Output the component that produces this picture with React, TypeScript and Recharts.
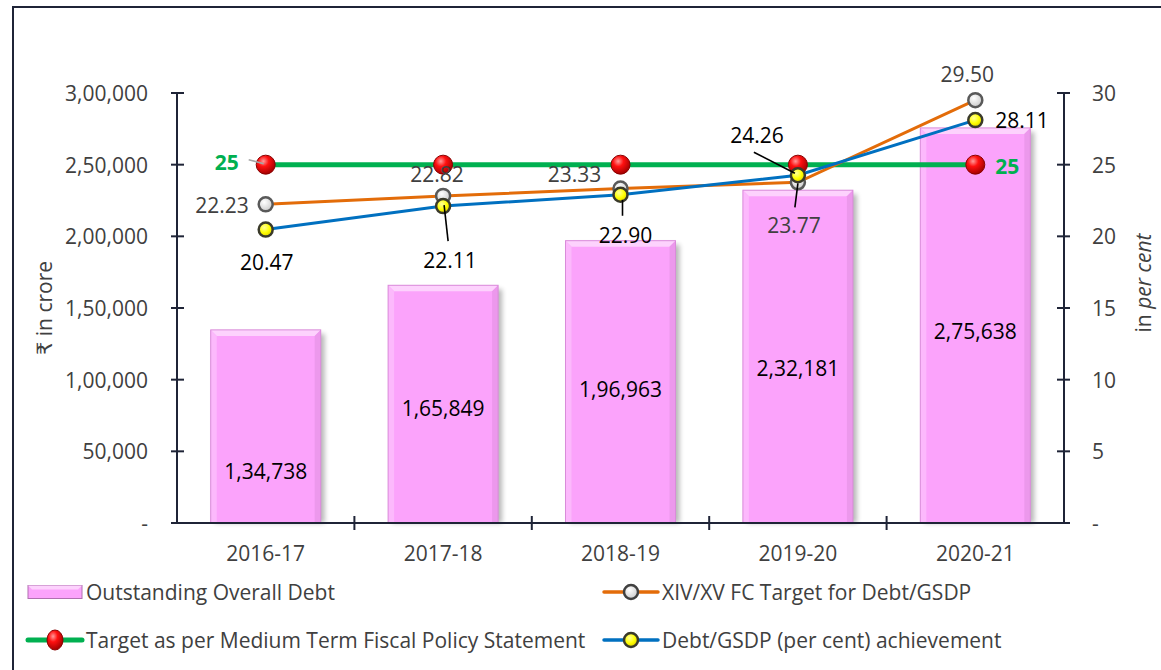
import React from 'react';
import { ComposedChart, Bar, Line, XAxis, YAxis, LabelList } from 'recharts';

// ---------- data ----------
const categories = ['2016-17', '2017-18', '2018-19', '2019-20', '2020-21'];
const outstandingDebt = [134738, 165849, 196963, 232181, 275638];
const mtfpsTarget = [25, 25, 25, 25, 25];
const fcTarget = [22.23, 22.82, 23.33, 23.77, 29.5];
const achievement = [20.47, 22.11, 22.9, 24.26, 28.11];
const leftTicks = [0, 50000, 100000, 150000, 200000, 250000, 300000];
const rightTicks = [0, 5, 10, 15, 20, 25, 30];

const data = categories.map((c, i) => ({
  category: c,
  debt: outstandingDebt[i],
  mtfps: mtfpsTarget[i],
  fc: fcTarget[i],
  ach: achievement[i],
}));

// ---------- styles / layout ----------
const AXIS = '#1f2437';
const GRAY = '#404040';
const FONT = "'Open Sans', 'DejaVu Sans', sans-serif";
const FS = 21;
const CHART_W = 1146;
const CHART_H = 561;
const LEFT_W = 163;
const RIGHT_W = 96;
const TOP = 85;
const XAXIS_H = 46;
const BAND = (CHART_W - LEFT_W - RIGHT_W) / categories.length;

function fmtIN(n: number): string {
  if (n === 0) return '-';
  const s = String(Math.round(n));
  if (s.length <= 3) return s;
  const last3 = s.slice(-3);
  let rest = s.slice(0, -3);
  const parts: string[] = [];
  while (rest.length > 2) {
    parts.unshift(rest.slice(-2));
    rest = rest.slice(0, -2);
  }
  if (rest) parts.unshift(rest);
  return parts.join(',') + ',' + last3;
}

// label placement (relative to the point the library gives)
const BAR_LABEL_DY = [45, 4, 7, 11, 6];
type Place = { dx: number; dy: number; anchor?: 'start' | 'middle' | 'end'; leader?: number[] } | null;
const MTFPS_PLACE: Place[] = [
  { dx: -27, dy: -3, anchor: 'end', leader: [-17, -5, -2, -1] },
  null,
  null,
  null,
  { dx: 20, dy: 1, anchor: 'start' },
];
const FC_PLACE: Place[] = [
  { dx: -17, dy: 1, anchor: 'end' },
  { dx: -6, dy: -22 },
  { dx: -46, dy: -15 },
  { dx: -4, dy: 43, leader: [0, 1, -3, 25] },
  { dx: -8, dy: -26 },
];
const ACH_PLACE: Place[] = [
  { dx: 1, dy: 32 },
  { dx: 7, dy: 54, leader: [1, -1, 5, 35] },
  { dx: 5, dy: 40, leader: [2, 5, 2, 21] },
  { dx: -41, dy: -40, leader: [-3, -2, -44, -23] },
  { dx: 20, dy: 0, anchor: 'start' },
];

// ---------- ticks ----------
const LeftTick = (props: any) => {
  const { x, y, payload } = props;
  const ax = x + 29;
  return (
    <g>
      <line x1={ax - 6} x2={ax + 7} y1={y} y2={y} stroke={AXIS} strokeWidth={2} />
      <text x={x} y={y} textAnchor="end" dominantBaseline="central" fontFamily={FONT} fontSize={FS} fill={GRAY}>
        {fmtIN(payload.value)}
      </text>
    </g>
  );
};

const RightTick = (props: any) => {
  const { x, y, payload } = props;
  const ax = x - 28;
  return (
    <g>
      <line x1={ax - 7} x2={ax + 6} y1={y} y2={y} stroke={AXIS} strokeWidth={2} />
      <text x={x} y={y} textAnchor="start" dominantBaseline="central" fontFamily={FONT} fontSize={FS} fill={GRAY}>
        {payload.value === 0 ? '-' : payload.value}
      </text>
    </g>
  );
};

const XTick = (props: any) => {
  const { x, y, payload, index } = props;
  const bx = x - BAND / 2;
  return (
    <g>
      {index > 0 && <line x1={bx} x2={bx} y1={y - 7} y2={y + 7} stroke={AXIS} strokeWidth={2} />}
      <text x={x} y={y + 30} textAnchor="middle" dominantBaseline="central" fontFamily={FONT} fontSize={FS} fill={GRAY}>
        {payload.value}
      </text>
    </g>
  );
};

// ---------- bar shape ----------
const BevelBar = (props: any) => {
  const { x, y, width, height } = props;
  if (!(height > 0)) return null;
  const b = 6;
  return (
    <g>
      <rect x={x + 4} y={y + 4} width={width} height={height - 4} fill="#000" opacity={0.28} filter="url(#barShadow)" />
      <rect x={x} y={y} width={width} height={height} fill="#FBA3FB" />
      <polygon points={`${x},${y} ${x + width},${y} ${x + width - b},${y + b} ${x + b},${y + b}`} fill="#FDD2FD" />
      <polygon points={`${x},${y} ${x + b},${y + b} ${x + b},${y + height} ${x},${y + height}`} fill="#FCB9FC" />
      <polygon
        points={`${x + width},${y} ${x + width},${y + height} ${x + width - b},${y + height} ${x + width - b},${y + b}`}
        fill="#EC98EC"
      />
      <rect x={x} y={y} width={width} height={height} fill="none" stroke="#D98CD9" strokeWidth={1} />
    </g>
  );
};

const BarLabel = (props: any) => {
  const vb = props.viewBox || {};
  const x = props.x ?? vb.x;
  const y = props.y ?? vb.y;
  const w = props.width ?? vb.width;
  const h = props.height ?? vb.height;
  const i = props.index ?? 0;
  return (
    <text
      x={x + w / 2}
      y={y + h / 2 + (BAR_LABEL_DY[i] || 0)}
      textAnchor="middle"
      dominantBaseline="central"
      fontFamily={FONT}
      fontSize={FS}
      fill="#000"
    >
      {fmtIN(props.value)}
    </text>
  );
};

const makePointLabel = (places: Place[], color: string, bold: boolean, fmt: (v: number) => string) => (props: any) => {
  const vb = props.viewBox || {};
  const px = props.x ?? vb.x;
  const py = props.y ?? vb.y;
  const i = props.index ?? 0;
  const p = places[i];
  if (!p || px == null || py == null) return null;
  return (
    <g>
      {p.leader && (
        <line
          x1={px + p.leader[0]}
          y1={py + p.leader[1]}
          x2={px + p.leader[2]}
          y2={py + p.leader[3]}
          stroke={bold ? '#a6a6a6' : '#000'}
          strokeWidth={1.6}
        />
      )}
      <text
        x={px + p.dx}
        y={py + p.dy}
        textAnchor={p.anchor || 'middle'}
        dominantBaseline="central"
        fontFamily={FONT}
        fontSize={FS}
        fontWeight={bold ? 700 : 400}
        fill={color}
      >
        {fmt(props.value)}
      </text>
    </g>
  );
};

const MtfpsLabel = makePointLabel(MTFPS_PLACE, '#00B050', true, (v) => String(v));
const FcLabel = makePointLabel(FC_PLACE, GRAY, false, (v) => Number(v).toFixed(2));
const AchLabel = makePointLabel(ACH_PLACE, '#000', false, (v) => Number(v).toFixed(2));

// ---------- dots ----------
const RedDot = ({ cx, cy, r = 9.5 }: any) => (
  <circle cx={cx} cy={cy} r={r} fill="url(#redBall)" stroke="#8a0000" strokeWidth={1} />
);
const WhiteDot = ({ cx, cy, r = 7 }: any) => (
  <circle cx={cx} cy={cy} r={r} fill="url(#whiteBall)" stroke="#595959" strokeWidth={2.5} />
);
const YellowDot = ({ cx, cy, r = 7 }: any) => (
  <circle cx={cx} cy={cy} r={r} fill="url(#yellowBall)" stroke="#3a3a2a" strokeWidth={2.5} />
);

// ---------- axis titles ----------
const LeftTitle = () => (
  <text
    x={29.5}
    y={300}
    transform="rotate(-90 29.5 300)"
    textAnchor="middle"
    dominantBaseline="central"
    fontFamily={FONT}
    fontSize={FS}
    fill={GRAY}
  >
    ₹ in crore
  </text>
);
const RightTitle = () => (
  <text
    x={1129}
    y={275}
    transform="rotate(-90 1129 275)"
    textAnchor="middle"
    dominantBaseline="central"
    fontFamily={FONT}
    fontSize={FS}
    fill={GRAY}
  >
    <tspan>{'in  '}</tspan>
    <tspan fontStyle="italic">per cent</tspan>
  </text>
);

// ---------- legend ----------
const legendItems = [
  { name: 'Outstanding Overall Debt', kind: 'bar', col: 0, row: 0 },
  { name: 'XIV/XV FC Target for Debt/GSDP', kind: 'fc', col: 1, row: 0 },
  { name: 'Target as per Medium Term Fiscal Policy Statement', kind: 'mtfps', col: 0, row: 1 },
  { name: 'Debt/GSDP (per cent) achievement', kind: 'ach', col: 1, row: 1 },
];

const Legend2 = () => {
  const colX = [14, 590];
  const rowY = [24, 72];
  return (
    <svg width={CHART_W} height={100} style={{ position: 'absolute', left: 0, top: 560 }}>
      <defs>
        <radialGradient id="lg_redBall" cx="38%" cy="32%" r="70%">
          <stop offset="0%" stopColor="#ff9a9a" />
          <stop offset="40%" stopColor="#ff1010" />
          <stop offset="100%" stopColor="#a00000" />
        </radialGradient>
        <radialGradient id="lg_whiteBall" cx="40%" cy="35%" r="70%">
          <stop offset="0%" stopColor="#ffffff" />
          <stop offset="100%" stopColor="#c8c8c8" />
        </radialGradient>
        <radialGradient id="lg_yellowBall" cx="40%" cy="35%" r="70%">
          <stop offset="0%" stopColor="#ffff9a" />
          <stop offset="55%" stopColor="#ffff00" />
          <stop offset="100%" stopColor="#d8c800" />
        </radialGradient>
      </defs>
      {legendItems.map((it) => {
        const x0 = colX[it.col];
        const cy = rowY[it.row];
        let icon: React.ReactNode = null;
        if (it.kind === 'bar') {
          icon = (
            <g>
              <rect x={x0} y={cy - 6.5} width={54} height={13} fill="#FBA3FB" stroke="#B070B0" strokeWidth={1} />
              <polygon
                points={`${x0},${cy - 6.5} ${x0 + 54},${cy - 6.5} ${x0 + 50},${cy - 2.5} ${x0 + 4},${cy - 2.5}`}
                fill="#FDD2FD"
              />
            </g>
          );
        } else {
          const color = it.kind === 'fc' ? '#E36C09' : it.kind === 'ach' ? '#0070C0' : '#00B050';
          const sw = it.kind === 'mtfps' ? 5 : 3.5;
          const mid = x0 + 27;
          icon = (
            <g>
              <line x1={x0} x2={x0 + 54} y1={cy} y2={cy} stroke={color} strokeWidth={sw} strokeLinecap="round" />
              {it.kind === 'mtfps' && (
                <ellipse cx={mid} cy={cy} rx={8} ry={10} fill="url(#lg_redBall)" stroke="#8a0000" strokeWidth={1} />
              )}
              {it.kind === 'fc' && (
                <circle cx={mid} cy={cy} r={7} fill="url(#lg_whiteBall)" stroke="#404040" strokeWidth={2.5} />
              )}
              {it.kind === 'ach' && (
                <circle cx={mid} cy={cy} r={7} fill="url(#lg_yellowBall)" stroke="#3a3a2a" strokeWidth={2.5} />
              )}
            </g>
          );
        }
        return (
          <g key={it.name}>
            {icon}
            <text x={x0 + 58} y={cy} dominantBaseline="central" fontFamily={FONT} fontSize={FS} fill={GRAY}>
              {it.name}
            </text>
          </g>
        );
      })}
    </svg>
  );
};

export default function App() {
  return (
    <div
      style={{
        position: 'absolute',
        left: 12,
        top: 6,
        width: 1147,
        height: 662,
        borderTop: `2px solid ${AXIS}`,
        borderLeft: `2px solid ${AXIS}`,
        background: '#fff',
        overflow: 'hidden',
      }}
    >
      <ComposedChart
        width={CHART_W}
        height={CHART_H}
        data={data}
        margin={{ top: TOP, right: 0, bottom: 0, left: 0 }}
        barCategoryGap="19%"
      >
        <defs>
          <filter id="barShadow" x="-20%" y="-20%" width="140%" height="140%">
            <feGaussianBlur stdDeviation="2.5" />
          </filter>
          <radialGradient id="redBall" cx="38%" cy="32%" r="70%">
            <stop offset="0%" stopColor="#ff9a9a" />
            <stop offset="40%" stopColor="#ff1010" />
            <stop offset="100%" stopColor="#a00000" />
          </radialGradient>
          <radialGradient id="whiteBall" cx="40%" cy="35%" r="70%">
            <stop offset="0%" stopColor="#ffffff" />
            <stop offset="100%" stopColor="#c8c8c8" />
          </radialGradient>
          <radialGradient id="yellowBall" cx="40%" cy="35%" r="70%">
            <stop offset="0%" stopColor="#ffff9a" />
            <stop offset="55%" stopColor="#ffff00" />
            <stop offset="100%" stopColor="#d8c800" />
          </radialGradient>
        </defs>
        <XAxis
          dataKey="category"
          height={XAXIS_H}
          axisLine={{ stroke: AXIS, strokeWidth: 2 }}
          tickLine={{ stroke: 'none' }}
          tickSize={0}
          tickMargin={0}
          interval={0}
          tick={<XTick />}
        />
        <YAxis
          yAxisId="left"
          orientation="left"
          width={LEFT_W}
          domain={[0, 300000]}
          ticks={leftTicks}
          interval={0}
          axisLine={{ stroke: AXIS, strokeWidth: 2 }}
          tickLine={{ stroke: 'none' }}
          tickSize={6}
          tickMargin={23}
          tick={<LeftTick />}
          label={<LeftTitle />}
        />
        <YAxis
          yAxisId="right"
          orientation="right"
          width={RIGHT_W}
          domain={[0, 30]}
          ticks={rightTicks}
          interval={0}
          axisLine={{ stroke: AXIS, strokeWidth: 2 }}
          tickLine={{ stroke: 'none' }}
          tickSize={6}
          tickMargin={22}
          tick={<RightTick />}
          label={<RightTitle />}
        />
        <Bar yAxisId="left" dataKey="debt" shape={<BevelBar />} isAnimationActive={false}>
          <LabelList dataKey="debt" content={<BarLabel />} />
        </Bar>
        <Line
          yAxisId="right"
          dataKey="mtfps"
          stroke="#00B050"
          strokeWidth={5}
          dot={(p: any) => <RedDot key={`r${p.index}`} cx={p.cx} cy={p.cy} />}
          activeDot={false}
          isAnimationActive={false}
        >
          <LabelList dataKey="mtfps" content={<MtfpsLabel />} />
        </Line>
        <Line
          yAxisId="right"
          dataKey="fc"
          stroke="#E36C09"
          strokeWidth={3}
          dot={(p: any) => <WhiteDot key={`w${p.index}`} cx={p.cx} cy={p.cy} />}
          activeDot={false}
          isAnimationActive={false}
        >
          <LabelList dataKey="fc" content={<FcLabel />} />
        </Line>
        <Line
          yAxisId="right"
          dataKey="ach"
          stroke="#0070C0"
          strokeWidth={3}
          dot={(p: any) => <YellowDot key={`y${p.index}`} cx={p.cx} cy={p.cy} />}
          activeDot={false}
          isAnimationActive={false}
        >
          <LabelList dataKey="ach" content={<AchLabel />} />
        </Line>
      </ComposedChart>
      <Legend2 />
    </div>
  );
}
